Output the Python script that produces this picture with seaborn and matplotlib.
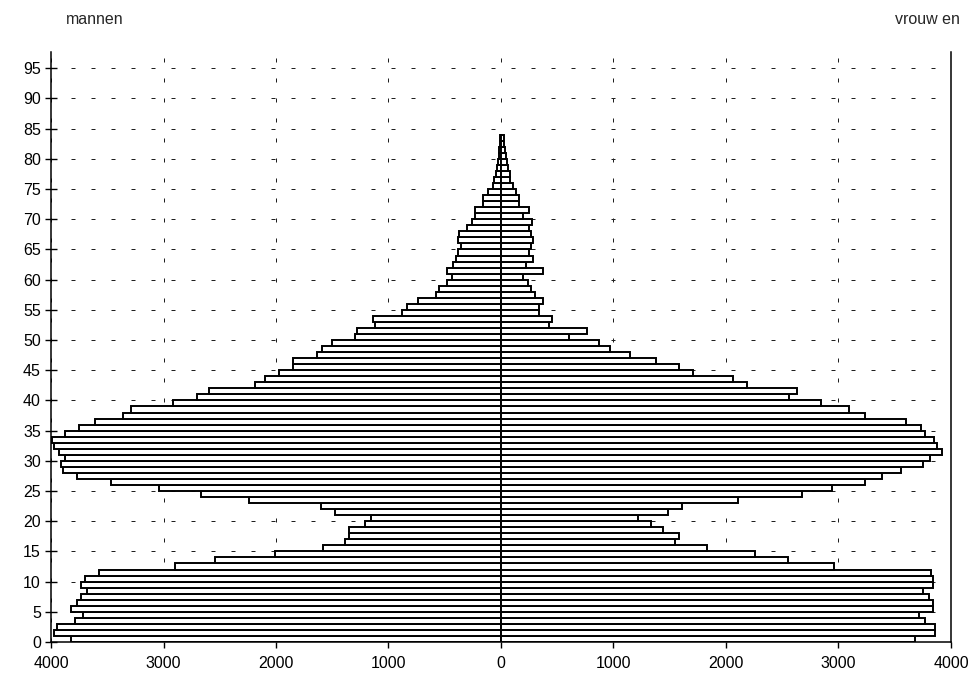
import numpy as np
import pandas as pd
import seaborn as sns
import matplotlib.pyplot as plt

# leeftijd 0..83, aantallen per geslacht
ages = np.arange(84)
mannen = [3822, 3976, 3950, 3787, 3718, 3825, 3772, 3736, 3683, 3736, 3698, 3573, 2898, 2542, 2009,
          1580, 1387, 1348, 1348, 1209, 1156, 1476, 1600, 2237, 2667, 3040, 3467, 3772, 3896, 3914,
          3876, 3929, 3973, 3994, 3876, 3751, 3609, 3357, 3292, 2913, 2699, 2593, 2187, 2095, 1970,
          1846, 1846, 1639, 1594, 1505, 1298, 1283, 1120, 1135, 883, 839, 741, 581, 548, 477,
          439, 483, 424, 400, 379, 359, 379, 370, 305, 261, 231, 231, 157, 157, 113,
          74, 62, 44, 33, 24, 15, 15, 9, 9]
vrouwen = [3680, 3858, 3858, 3769, 3716, 3843, 3843, 3805, 3754, 3843, 3843, 3822, 2957, 2548, 2258,
           1834, 1547, 1582, 1443, 1334, 1215, 1482, 1606, 2104, 2673, 2940, 3236, 3384, 3556, 3754,
           3814, 3918, 3873, 3852, 3769, 3734, 3598, 3236, 3097, 2845, 2563, 2631, 2190, 2065, 1710,
           1585, 1378, 1147, 969, 874, 604, 767, 427, 450, 338, 338, 376, 302, 267, 243,
           198, 376, 219, 287, 249, 267, 287, 267, 252, 273, 198, 252, 160, 160, 130,
           110, 80, 80, 65, 50, 41, 36, 30, 30]

x_ticks = [-4000, -3000, -2000, -1000, 0, 1000, 2000, 3000, 4000]
x_labels = ["4000", "3000", "2000", "1000", "0", "1000", "2000", "3000", "4000"]
y_ticks = list(range(0, 100, 5))

sns.set_style("white")
plt.rcParams['font.family'] = ['Liberation Sans', 'DejaVu Sans']
plt.rcParams['font.size'] = 11.5

df = pd.DataFrame({"leeftijd": ages + 0.5,
                   "mannen": -np.array(mannen),
                   "vrouwen": vrouwen})

fig = plt.figure(figsize=(9.78, 6.83), dpi=100)
ax = fig.add_axes([51/978, 41/683, 900/978, 590/683])

for col in ["mannen", "vrouwen"]:
    sns.barplot(data=df, x=col, y="leeftijd", orient="y", native_scale=True, width=1,
                color="white", edgecolor="black", linewidth=1.4, saturation=1,
                errorbar=None, ax=ax)

ax.set_xlim(-4000, 4000)
ax.set_ylim(0, 97.7)
ax.set_xticks(x_ticks, x_labels)
ax.set_yticks(y_ticks)
ax.set_xlabel("")
ax.set_ylabel("")

ax.set_axisbelow(True)
ax.grid(True, color="#202020", linewidth=0.72, linestyle=(0, (4, 16)))

for side in ["left", "bottom", "right"]:
    ax.spines[side].set_visible(True)
    ax.spines[side].set_color("black")
    ax.spines[side].set_linewidth(1.1)
ax.spines["top"].set_visible(False)

ax.tick_params(axis="y", direction="inout", length=8.6, width=1, color="black", labelcolor="black", pad=3)
ax.tick_params(axis="x", direction="out", length=4.3, width=1, color="black", labelcolor="black", pad=6)
ax.tick_params(left=True, bottom=True)

fig.text(66/978, 1 - 19/683, "mannen", ha="left", va="center")
fig.text(960/978, 1 - 19/683, "vrouw en", ha="right", va="center")

fig.savefig("out.png", dpi=100)
